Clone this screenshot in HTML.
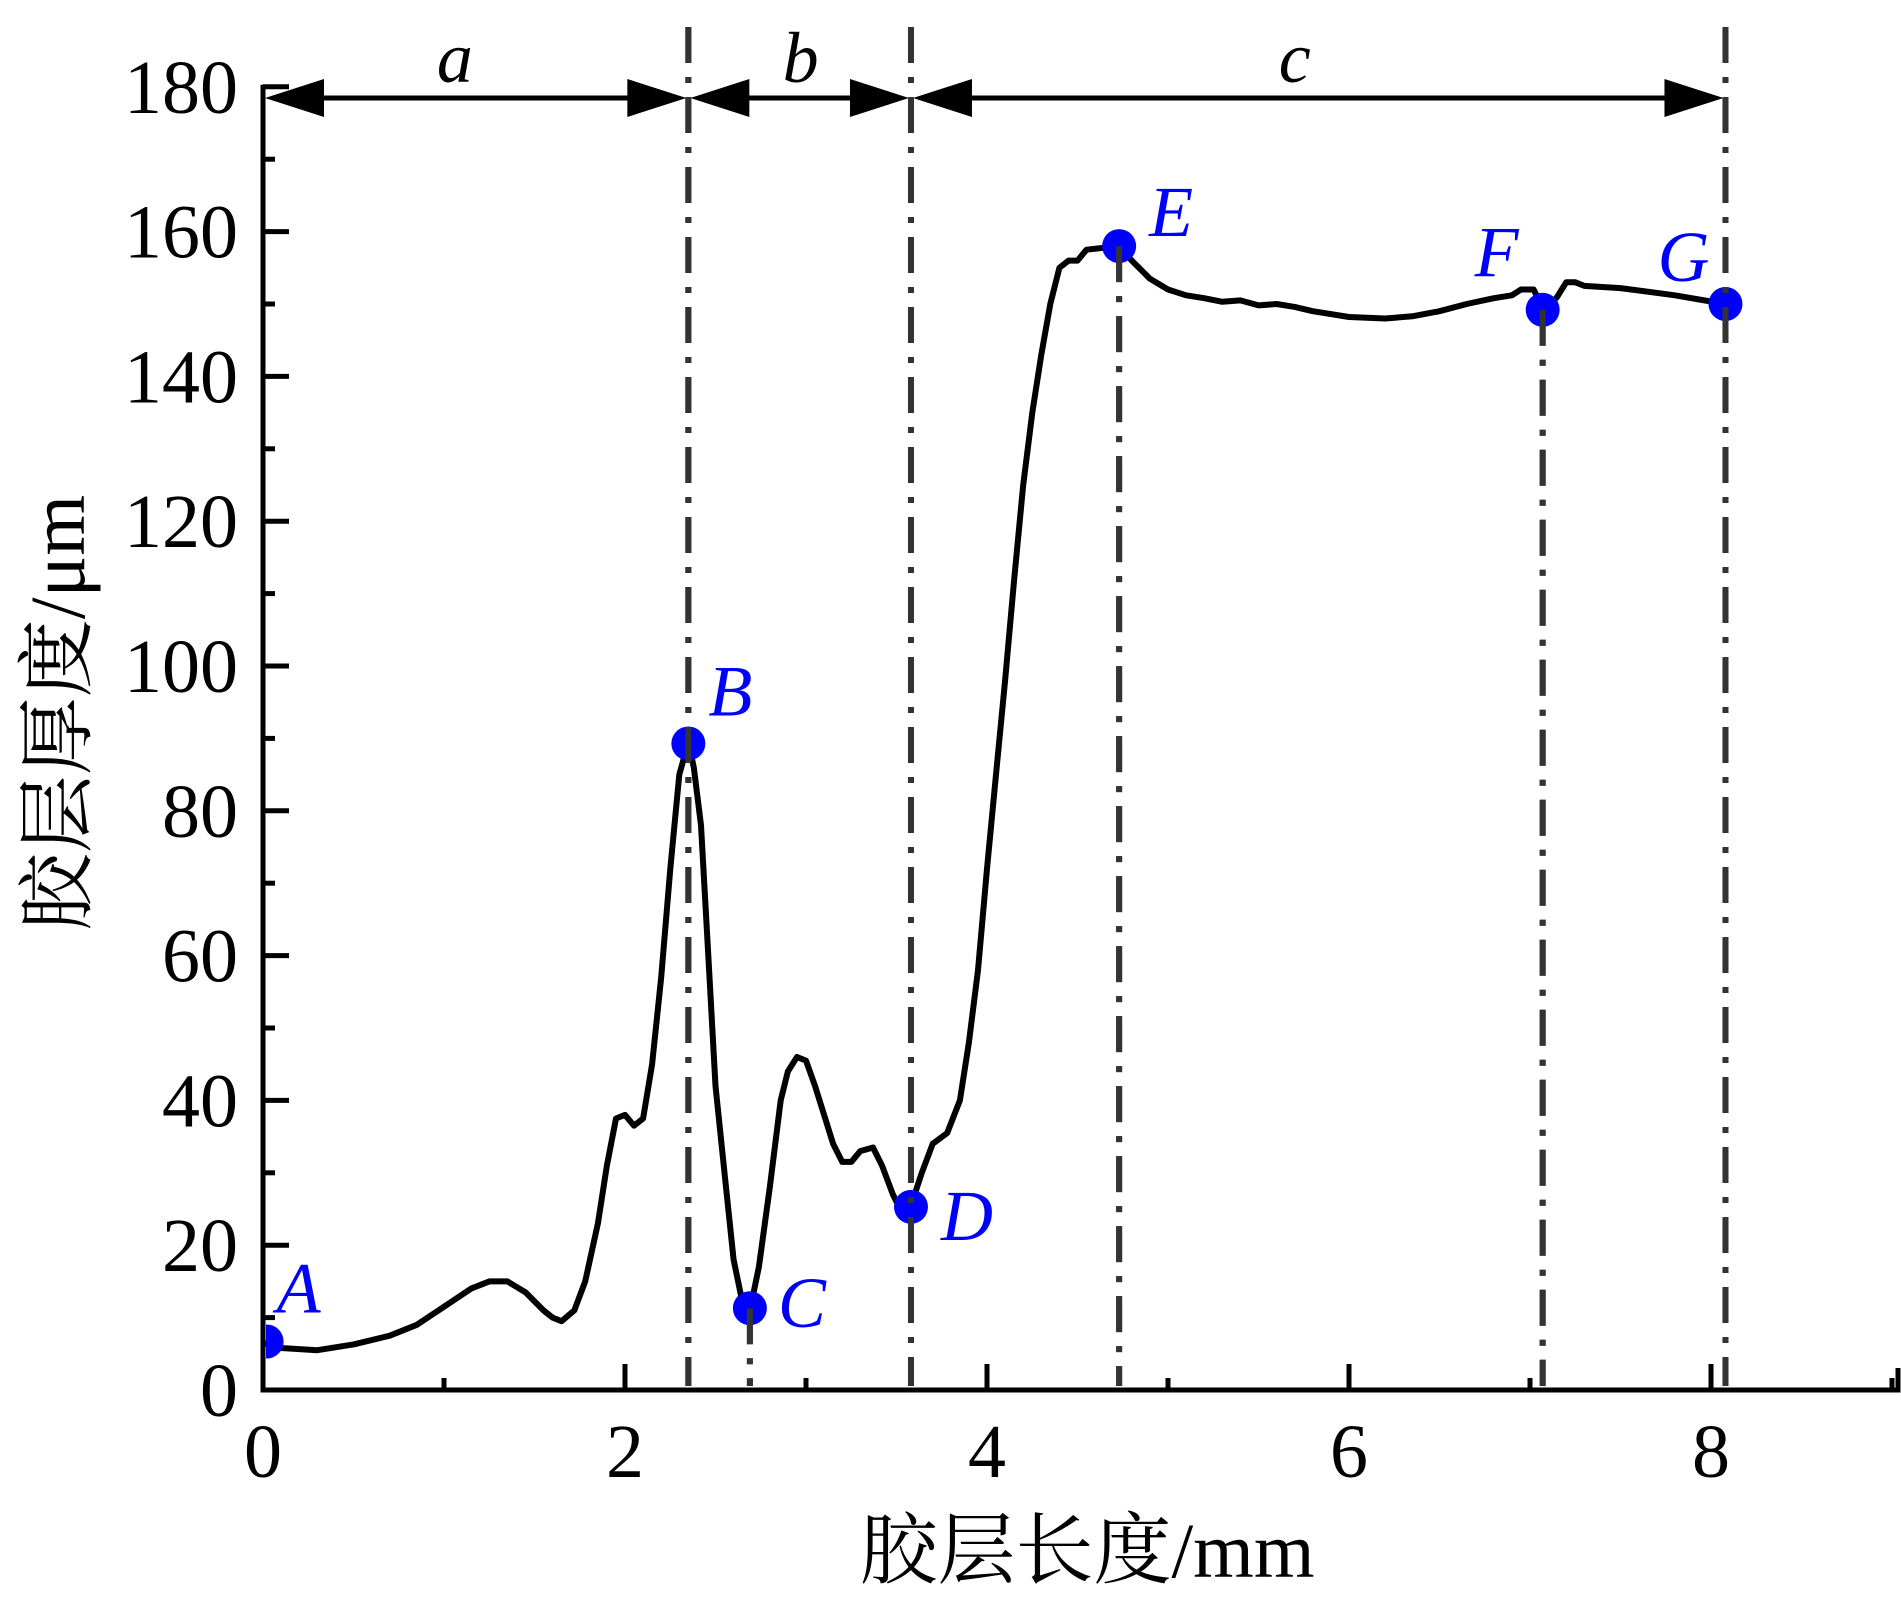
<!DOCTYPE html>
<html><head><meta charset="utf-8"><style>
html,body{margin:0;padding:0;background:#fff}
svg{display:block}
text{font-family:"Liberation Serif","Noto Serif CJK SC",serif}
</style></head><body>
<svg id="chart" width="1901" height="1600" viewBox="0 0 1901 1600" xmlns="http://www.w3.org/2000/svg">
<defs><clipPath id="plotclip" clipPathUnits="userSpaceOnUse"><rect x="266" y="0" width="1640" height="1392"/></clipPath></defs>
<g id="guides"></g>
<g id="arrows"></g>
<g id="series"></g>
<g id="markers"></g>
<g id="axes"></g>
<text x="1087" y="1577" font-size="78" text-anchor="middle">胶层长度/mm</text>
<text transform="translate(84,713) rotate(-90)" font-size="78" text-anchor="middle">胶层厚度/μm</text>
</svg>
<script>
const xs = [0,0.1,0.3,0.5,0.7,0.85,1.0,1.15,1.25,1.35,1.45,1.55,1.6,1.65,1.72,1.78,1.85,1.9,1.95,2.0,2.05,2.1,2.15,2.2,2.25,2.3,2.35,2.38,2.42,2.46,2.5,2.55,2.6,2.65,2.69,2.74,2.8,2.86,2.9,2.95,3.0,3.05,3.1,3.15,3.2,3.25,3.3,3.37,3.42,3.48,3.52,3.58,3.64,3.7,3.78,3.85,3.9,3.95,4.0,4.05,4.1,4.15,4.2,4.25,4.3,4.35,4.4,4.45,4.5,4.55,4.73,4.8,4.9,5.0,5.1,5.2,5.3,5.4,5.5,5.6,5.7,5.8,6.0,6.2,6.35,6.5,6.65,6.8,6.9,6.95,7.02,7.08,7.15,7.2,7.25,7.3,7.5,7.8,8.08];
const ys = [6.5,5.8,5.5,6.3,7.5,9,11.5,14,15,15,13.5,11,10,9.5,11,15,23,31,37.5,38,36.5,37.5,45,57,72,85,89.5,86,78,60,42,30,18,12,11,17,28,40,44,46,45.5,42,38,34,31.5,31.5,33,33.5,31,27,25,25.5,30,34,35.5,40,48,58,72,85,98,112,125,135,143,150,155,156,156,157.5,158,156,153.5,152,151.2,150.8,150.3,150.5,149.8,150,149.6,149,148.2,148,148.3,149,150,150.8,151.2,152,152,149,151,153,153,152.5,152.2,151.2,150];
const pointNames = ["A","B","C","D","E","F","G"];
const pointX = [0.02,2.35,2.69,3.58,4.73,7.07,8.08];
const pointY = [6.7,89.3,11.3,25.3,158,149.2,150];
const guideX = [2.35,2.69,3.58,4.73,7.07,8.08];
const guideFromPoint = [false,true,false,true,true,false];
const guideY = [89.3,11.3,25.3,158,149.2,150];
const regionNames = ["a","b","c"];
const regionStart = [0,2.35,3.58];
const regionEnd = [2.35,3.58,8.08];
const xTicks = [0,2,4,6,8];
const yTicks = [0,20,40,60,80,100,120,140,160,180];

const NS="http://www.w3.org/2000/svg";
const X=v=>263+v*181, Y=v=>1390-v*7.24;
function mk(tag,attrs,parent){const e=document.createElementNS(NS,tag);for(const k in attrs)e.setAttribute(k,attrs[k]);parent.appendChild(e);return e;}
const axes=document.getElementById('axes');
let el=mk('path',{d:`M${X(0)},${Y(180)-2} V${Y(0)} H1898 v-22`,stroke:'#000','stroke-width':5,fill:'none'},axes);


for(let v=0;v<=9;v++){const major=v%2===0;
 el=mk('line',{x1:X(v),x2:X(v),y1:Y(0),y2:Y(0)-(major?26:12),stroke:'#000','stroke-width':5},axes);
 
 }
for(let v=0;v<=180;v+=10){const major=v%20===0;
 el=mk('line',{x1:X(0),x2:X(0)+(major?26:12),y1:Y(v),y2:Y(v),stroke:'#000','stroke-width':5},axes);
 
 }
xTicks.forEach(v=>{const t=mk('text',{x:X(v),y:1477,'font-size':76,'text-anchor':'middle'},axes);t.textContent=v;
 
 });
yTicks.forEach(v=>{const t=mk('text',{x:238,y:Y(v)+26,'font-size':76,'text-anchor':'end'},axes);t.textContent=v;
 
 });
const guides=document.getElementById('guides');
guideX.forEach((g,i)=>{const y1=guideFromPoint[i]?Y(guideY[i]):27;
 const l=mk('line',{x1:X(g),x2:X(g),y1:y1,y2:Y(0)-4,stroke:'#333','stroke-width':6,'stroke-dasharray':'36 14 6 14','stroke-linecap':'butt'},guides);
 
 });
const arrows=document.getElementById('arrows');
const ay=98;
regionNames.forEach((n,i)=>{const a=X(regionStart[i])+2,b=X(regionEnd[i])-2;
 const g=mk('g',{},arrows);
 
 
 mk('line',{x1:a+40,x2:b-40,y1:ay,y2:ay,stroke:'#000','stroke-width':5},g);
 mk('polygon',{points:`${a},${ay} ${a+59},${ay-19} ${a+59},${ay+19}`,fill:'#000'},g);
 mk('polygon',{points:`${b},${ay} ${b-59},${ay-19} ${b-59},${ay+19}`,fill:'#000'},g);
 const cx=i===0?X(1.06):(i===1?X(2.97):X(5.7));
 const t=mk('text',{x:cx,y:82,'font-size':72,'font-style':'italic','text-anchor':'middle'},g);t.textContent=n;
 
 });
const series=document.getElementById('series');
let d=xs.map((x,i)=>(i?'L':'M')+X(x).toFixed(1)+','+Y(ys[i]).toFixed(1)).join(' ');
el=mk('path',{d:d,stroke:'#000','stroke-width':6,fill:'none','stroke-linejoin':'round'},series);


const markers=document.getElementById('markers');
const mclip=mk('g',{'clip-path':'url(#plotclip)'},markers);
const labelOff=[[10,-29],[20,-28],[28,19],[30,33],[30,-10],[-68,-34],[-68,-23]];
pointNames.forEach((n,i)=>{
 const c=mk('circle',{cx:X(pointX[i]),cy:Y(pointY[i]),r:17,fill:'#0000ff'},mclip);
 
 
 const t=mk('text',{x:X(pointX[i])+labelOff[i][0],y:Y(pointY[i])+labelOff[i][1],'font-size':72,'font-style':'italic',fill:'#0000ff'},markers);
 t.textContent=n;
 
 });
const ov=document.getElementById('chart').insertBefore(guides.cloneNode(true),document.getElementById('axes'));

ov.removeAttribute('id');
</script>
</body></html>
